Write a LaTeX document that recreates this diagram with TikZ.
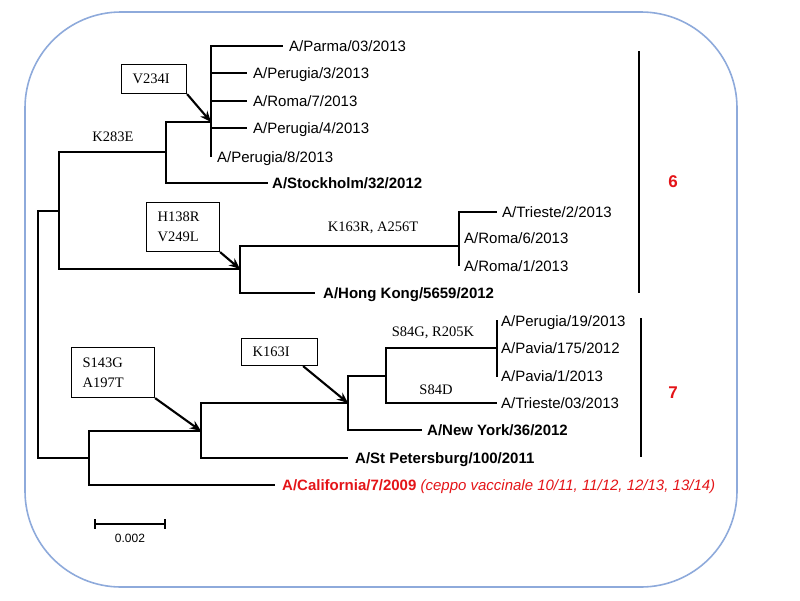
\documentclass[tikz,border=0pt]{standalone}
\usepackage{fontspec}
\setmainfont{Liberation Sans}
\newfontfamily\tnrfam{Liberation Serif}
\usetikzlibrary{arrows.meta,calc}
\definecolor{frameblue}{RGB}{142,170,219}
\definecolor{vred}{RGB}{228,20,24}
\newcommand\tipf{\fontsize{15}{18}\selectfont}
\newcommand\mutf{\tnrfam\fontsize{14.5}{20}\selectfont}
\begin{document}
\begin{tikzpicture}[x=1pt,y=-1pt,
  branch/.style={line width=1.1pt},
  tip/.style={anchor=base west, inner sep=0pt, font=\tipf},
  btip/.style={anchor=base west, inner sep=0pt, font=\tipf\bfseries},
  mut/.style={anchor=base, inner sep=0pt, font=\mutf},
  mbox/.style={draw, line width=1.1pt, anchor=north west, align=left, inner xsep=11pt, inner ysep=0pt, font=\mutf},
  marrow/.style={line width=2.1pt, -{Stealth[length=11pt,width=9pt]}},
  clade/.style={inner sep=0pt, font=\fontsize{17}{20}\selectfont\bfseries, text=vred}]
\useasboundingbox (0,0) rectangle (800,600);
\draw[frameblue, line width=1.6pt, rounded corners=96pt] (25,12) rectangle (737,587);

% internal nodes
\coordinate (R) at (38,334);
\coordinate (N1) at (59,211);
\coordinate (N3) at (166,152);
\coordinate (N5) at (211,122);
\coordinate (N4) at (240,269);
\coordinate (N6) at (459,246);
\coordinate (N2) at (89,458);
\coordinate (N7) at (201,431);
\coordinate (N8) at (348,403);
\coordinate (N9) at (386,376);
\coordinate (N10) at (497,348);

% tip ends
\coordinate (tParma) at (283,46);
\coordinate (tPer3) at (247,73);
\coordinate (tRoma7) at (247,101);
\coordinate (tPer4) at (247,128);
\coordinate (tPer8) at (211,157);
\coordinate (tStock) at (268,183);
\coordinate (tTri2) at (497,212);
\coordinate (tRoma6) at (459,238);
\coordinate (tRoma1) at (459,266);
\coordinate (tHK) at (315,293);
\coordinate (tPer19) at (497,320);
\coordinate (tPav1) at (497,377);
\coordinate (tTri3) at (497,403);
\coordinate (tNY) at (422,430);
\coordinate (tStP) at (348,458);
\coordinate (tCal) at (275,485);

% branches
\draw[branch] (R) |- (N1);
\draw[branch] (R) |- (N2);
\draw[branch] (N1) |- (N3);
\draw[branch] (N1) |- (N4);
\draw[branch] (N3) |- (N5);
\draw[branch] (N3) |- (tStock);
\draw[branch] (N5) |- (tParma);
\draw[branch] (N5) |- (tPer3);
\draw[branch] (N5) |- (tRoma7);
\draw[branch] (N5) |- (tPer4);
\draw[branch] (N5) -- (tPer8);
\draw[branch] (N4) |- (N6);
\draw[branch] (N4) |- (tHK);
\draw[branch] (N6) |- (tTri2);
\draw[branch] (N6) -- (tRoma1);
\draw[branch] (N2) |- (N7);
\draw[branch] (N2) |- (tCal);
\draw[branch] (N7) |- (N8);
\draw[branch] (N7) |- (tStP);
\draw[branch] (N8) |- (N9);
\draw[branch] (N8) |- (tNY);
\draw[branch] (N9) |- (N10);
\draw[branch] (N9) |- (tTri3);
\draw[branch] (tPer19) -- (tPav1);

% tip labels
\node[tip] (lParma) at (289,51.4) {A/Parma/03/2013};
\node[tip] (lPer3) at (253,78.4) {A/Perugia/3/2013};
\node[tip] (lRoma7) at (253,106.4) {A/Roma/7/2013};
\node[tip] (lPer4) at (253,133.4) {A/Perugia/4/2013};
\node[tip] (lPer8) at (217,162.4) {A/Perugia/8/2013};
\node[btip] (lStock) at (272,188.4) {A/Stockholm/32/2012};
\node[tip] (lTri2) at (502,217.4) {A/Trieste/2/2013};
\node[tip] (lRoma6) at (464,243.4) {A/Roma/6/2013};
\node[tip] (lRoma1) at (464,271.4) {A/Roma/1/2013};
\node[btip] (lHK) at (323,298.4) {A/Hong Kong/5659/2012};
\node[tip] (lPer19) at (501,326.4) {A/Perugia/19/2013};
\node[tip] (lPav175) at (501,353.4) {A/Pavia/175/2012};
\node[tip] (lPav1) at (501,381.4) {A/Pavia/1/2013};
\node[tip] (lTri3) at (501,408.4) {A/Trieste/03/2013};
\node[btip] (lNY) at (427,435.4) {A/New York/36/2012};
\node[btip] (lStP) at (355,463.4) {A/St Petersburg/100/2011};
\node[tip, text=vred] (lCal) at (282,490.4) {\bfseries A/California/7/2009 \mdseries\itshape (ceppo vaccinale 10/11, 11/12, 12/13, 13/14)};

% mutation labels
\node[mut] (mK283E) at (113,141.6) {K283E};
\node[mut] (mK163R) at (373,231.6) {K163R, A256T};
\node[mut] (mS84G) at (433,336.6) {S84G, R205K};
\node[mut] (mS84D) at (436,394.6) {S84D};

% mutation boxes
\node[mbox, text width=43pt, minimum height=29pt] (bV234I) at (121,64) {V234I};
\node[mbox, text width=51pt, minimum height=49pt] (bH138R) at (146,202) {H138R\\V249L};
\node[mbox, text width=61pt, minimum height=50pt] (bS143G) at (71,347) {S143G\\A197T};
\node[mbox, text width=54pt, minimum height=27pt] (bK163I) at (241,338) {K163I};

\draw[marrow] (bV234I.south east) -- (N5);
\draw[marrow] (bH138R.south east) -- (N4);
\draw[marrow] (bS143G.south east) -- (N7);
\draw[marrow] ($(bK163I.south east)+(-15,0)$) -- (N8);

% clade brackets
\coordinate (c6a) at (639,51);
\coordinate (c6b) at (639,293);
\coordinate (c7a) at (641,318);
\coordinate (c7b) at (641,457);
\draw[branch] (c6a) -- (c6b);
\draw[branch] (c7a) -- (c7b);
\node[clade] (k6) at (673,182) {6};
\node[clade] (k7) at (673,393) {7};

% scale bar
\coordinate (s1) at (95,524);
\coordinate (s2) at (165,524);
\draw[line width=1.1pt] (s1) -- (s2);
\draw[line width=1.1pt] ($(s1)+(0,-5)$) -- ($(s1)+(0,5)$);
\draw[line width=1.1pt] ($(s2)+(0,-5)$) -- ($(s2)+(0,5)$);
\node[inner sep=0pt, font=\fontsize{12}{14}\selectfont] (sl) at (130,538) {0.002};
\end{tikzpicture}
\end{document}
